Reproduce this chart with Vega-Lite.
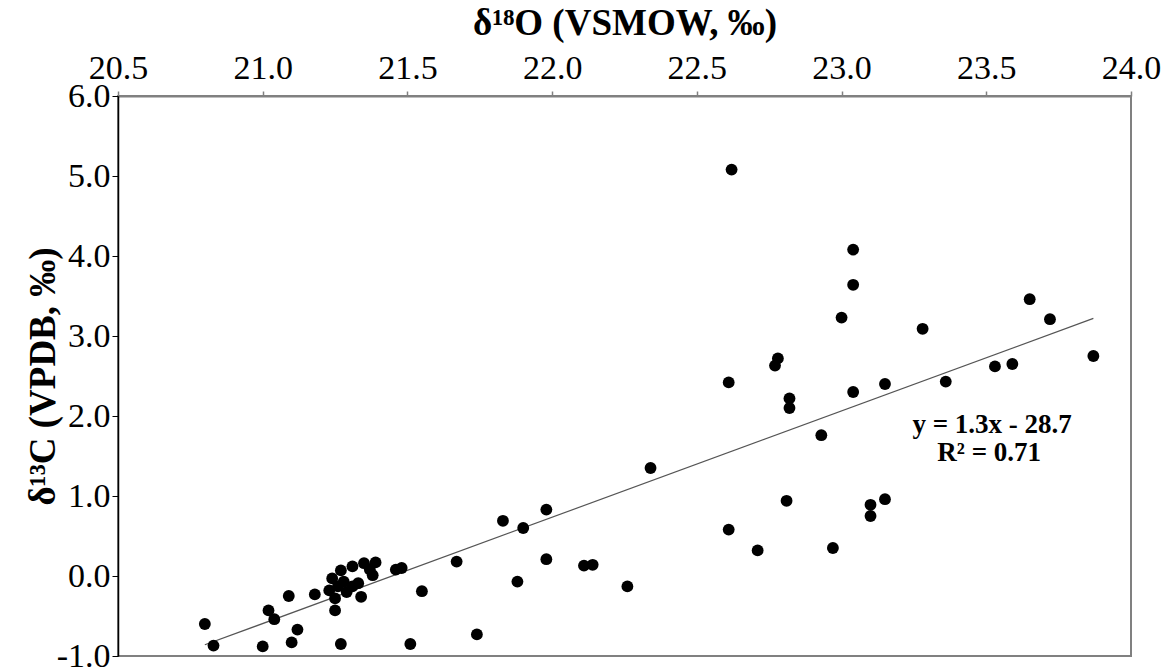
{
  "$schema": "https://vega.github.io/schema/vega-lite/v6.json",
  "width": 1013,
  "height": 560,
  "autosize": {"type": "none"},
  "padding": {"left": 118, "top": 96, "right": 34, "bottom": 12},
  "background": "white",
  "config": {
    "view": {"stroke": "#808080", "strokeWidth": 2},
    "font": "Liberation Serif"
  },
  "datasets": {
    "points": [
      {"d18O": 20.80, "d13C": -0.60}, {"d18O": 20.83, "d13C": -0.87}, {"d18O": 21.00, "d13C": -0.88},
      {"d18O": 21.02, "d13C": -0.43}, {"d18O": 21.04, "d13C": -0.54}, {"d18O": 21.10, "d13C": -0.83},
      {"d18O": 21.12, "d13C": -0.67}, {"d18O": 21.09, "d13C": -0.25}, {"d18O": 21.18, "d13C": -0.23},
      {"d18O": 21.25, "d13C": -0.43}, {"d18O": 21.27, "d13C": -0.85}, {"d18O": 21.23, "d13C": -0.18},
      {"d18O": 21.24, "d13C": -0.03}, {"d18O": 21.25, "d13C": -0.28}, {"d18O": 21.26, "d13C": -0.13},
      {"d18O": 21.27, "d13C": 0.07}, {"d18O": 21.28, "d13C": -0.07}, {"d18O": 21.29, "d13C": -0.20},
      {"d18O": 21.31, "d13C": 0.12}, {"d18O": 21.31, "d13C": -0.13}, {"d18O": 21.33, "d13C": -0.09},
      {"d18O": 21.34, "d13C": -0.26}, {"d18O": 21.35, "d13C": 0.16}, {"d18O": 21.37, "d13C": 0.08},
      {"d18O": 21.38, "d13C": 0.01}, {"d18O": 21.39, "d13C": 0.17}, {"d18O": 21.46, "d13C": 0.08},
      {"d18O": 21.48, "d13C": 0.10}, {"d18O": 21.51, "d13C": -0.85}, {"d18O": 21.55, "d13C": -0.19},
      {"d18O": 21.67, "d13C": 0.18}, {"d18O": 21.74, "d13C": -0.73}, {"d18O": 21.83, "d13C": 0.69},
      {"d18O": 21.90, "d13C": 0.60}, {"d18O": 21.88, "d13C": -0.07}, {"d18O": 21.98, "d13C": 0.83},
      {"d18O": 21.98, "d13C": 0.21}, {"d18O": 22.11, "d13C": 0.13}, {"d18O": 22.14, "d13C": 0.14},
      {"d18O": 22.26, "d13C": -0.13}, {"d18O": 22.34, "d13C": 1.35}, {"d18O": 22.62, "d13C": 5.08},
      {"d18O": 23.04, "d13C": 4.08}, {"d18O": 23.04, "d13C": 3.64}, {"d18O": 23.00, "d13C": 3.23},
      {"d18O": 23.28, "d13C": 3.09}, {"d18O": 23.65, "d13C": 3.46}, {"d18O": 23.72, "d13C": 3.21},
      {"d18O": 23.87, "d13C": 2.75}, {"d18O": 23.53, "d13C": 2.62}, {"d18O": 23.59, "d13C": 2.65},
      {"d18O": 23.36, "d13C": 2.43}, {"d18O": 23.15, "d13C": 2.40}, {"d18O": 23.04, "d13C": 2.30},
      {"d18O": 22.61, "d13C": 2.42}, {"d18O": 22.78, "d13C": 2.72}, {"d18O": 22.77, "d13C": 2.63},
      {"d18O": 22.82, "d13C": 2.22}, {"d18O": 22.82, "d13C": 2.10}, {"d18O": 22.93, "d13C": 1.76},
      {"d18O": 22.81, "d13C": 0.94}, {"d18O": 22.61, "d13C": 0.58}, {"d18O": 22.71, "d13C": 0.32},
      {"d18O": 22.97, "d13C": 0.35}, {"d18O": 23.10, "d13C": 0.89}, {"d18O": 23.10, "d13C": 0.75},
      {"d18O": 23.15, "d13C": 0.96}
    ],
    "fit": [
      {"d18O": 20.80, "d13C": -0.86},
      {"d18O": 23.87, "d13C": 3.22}
    ],
    "notes": [
      {"d18O": 23.52, "d13C": 1.89, "label": "y = 1.3x - 28.7"},
      {"d18O": 23.51, "d13C": 1.54, "label": "R² = 0.71"}
    ]
  },
  "encoding": {
    "x": {
      "field": "d18O",
      "type": "quantitative",
      "scale": {"domain": [20.5, 24.0], "nice": false, "zero": false},
      "axis": {
        "orient": "top",
        "title": "δ¹⁸O (VSMOW, ‰)",
        "titleFont": "Liberation Serif",
        "titleFontSize": 37,
        "titleFontWeight": "bold",
        "titleColor": "black",
        "titleBaseline": "middle",
        "titleY": -73,
        "values": [20.5, 21.0, 21.5, 22.0, 22.5, 23.0, 23.5, 24.0],
        "labelExpr": "replace(format(datum.value, '.1f'), '\u2212', '-')",
        "labelFont": "Liberation Serif",
        "labelFontSize": 34,
        "labelColor": "black",
        "labelBaseline": "alphabetic",
        "labelPadding": 13,
        "labelOverlap": false,
        "labelFlush": false,
        "tickSize": 5,
        "tickColor": "#808080",
        "tickWidth": 1.5,
        "domainColor": "#808080",
        "domainWidth": 2,
        "grid": false
      }
    },
    "y": {
      "field": "d13C",
      "type": "quantitative",
      "scale": {"domain": [-1.0, 6.0], "nice": false, "zero": false},
      "axis": {
        "orient": "left",
        "title": "δ¹³C (VPDB, ‰)",
        "titleFont": "Liberation Serif",
        "titleFontSize": 37,
        "titleFontWeight": "bold",
        "titleColor": "black",
        "titleAngle": -90,
        "titleAlign": "center",
        "titleBaseline": "middle",
        "titleX": -75,
        "titleY": 280,
        "values": [-1, 0, 1, 2, 3, 4, 5, 6],
        "labelExpr": "replace(format(datum.value, '.1f'), '\u2212', '-')",
        "labelFont": "Liberation Serif",
        "labelFontSize": 34,
        "labelColor": "black",
        "labelPadding": 2,
        "labelOverlap": false,
        "labelFlush": false,
        "tickSize": 6,
        "tickColor": "black",
        "tickWidth": 1,
        "domainColor": "black",
        "domainWidth": 1.5,
        "grid": false
      }
    }
  },
  "layer": [
    {
      "data": {"name": "fit"},
      "mark": {"type": "line", "color": "#555555", "strokeWidth": 1.2}
    },
    {
      "data": {"name": "points"},
      "mark": {"type": "circle", "color": "black", "opacity": 1, "size": 140}
    },
    {
      "data": {"name": "notes"},
      "mark": {"type": "text", "font": "Liberation Serif", "fontSize": 27, "fontWeight": "bold", "color": "black", "align": "center", "baseline": "middle"},
      "encoding": {"text": {"field": "label", "type": "nominal"}}
    }
  ]
}
